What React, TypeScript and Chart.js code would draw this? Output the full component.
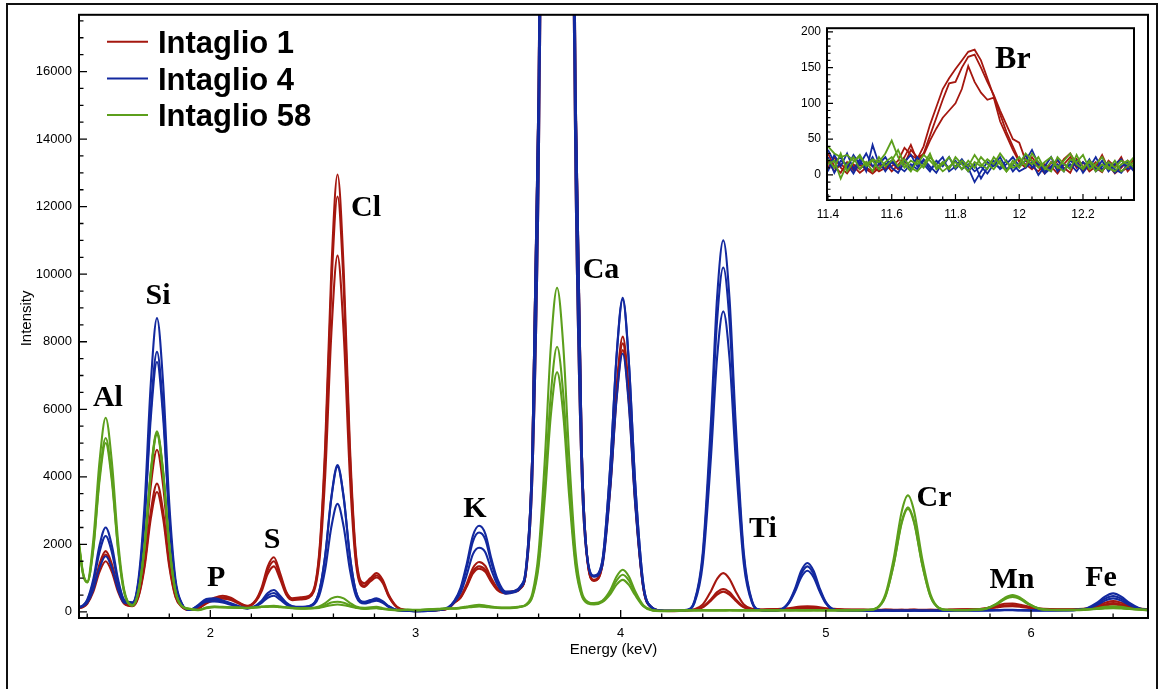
import React, { useEffect, useRef } from 'react';
import { Chart, registerables } from 'chart.js';

Chart.register(...registerables);

// ---------------- Main spectrum (Energy keV vs Intensity) ----------------
const energyKeV = [
  1.36, 1.38, 1.40, 1.43, 1.46, 1.49, 1.52, 1.55, 1.58, 1.62, 1.65, 1.68, 1.71, 1.74, 1.77, 1.80, 1.83, 1.86, 1.90,
  1.94, 1.98, 2.02, 2.06, 2.10, 2.14, 2.18,
  2.22, 2.25, 2.28, 2.31, 2.34, 2.37, 2.40, 2.44, 2.48,
  2.53, 2.56, 2.59, 2.62, 2.65, 2.68, 2.71, 2.75, 2.78, 2.81, 2.84, 2.87, 2.91,
  2.96, 3.01, 3.06, 3.11, 3.16,
  3.19, 3.22, 3.25, 3.28, 3.31, 3.34, 3.37, 3.40, 3.44, 3.48,
  3.51, 3.54, 3.57, 3.60, 3.63, 3.66, 3.69, 3.72, 3.75, 3.78, 3.81, 3.84, 3.87,
  3.91, 3.95, 3.98, 4.01, 4.04, 4.07, 4.11, 4.15, 4.20,
  4.26, 4.32, 4.36, 4.40, 4.44, 4.47, 4.50, 4.53, 4.56, 4.60, 4.64, 4.68, 4.73,
  4.78, 4.82, 4.85, 4.88, 4.91, 4.94, 4.97, 5.00, 5.04, 5.09,
  5.15, 5.20, 5.25, 5.29, 5.33, 5.37, 5.40, 5.43, 5.47, 5.51, 5.55, 5.60, 5.66,
  5.72, 5.78, 5.83, 5.87, 5.91, 5.95, 5.99, 6.04, 6.10,
  6.16, 6.22, 6.27, 6.32, 6.36, 6.40, 6.44, 6.48, 6.53, 6.57,
];

const intaglio1Spot1 = [
  120, 160, 270, 710, 1420, 1800, 1420, 710, 270, 195, 570, 1790, 3740, 4800, 3740, 1790, 570, 180, 60,
  100, 300, 420, 480, 420, 280, 180,
  340, 720, 1350, 1620, 1150, 600, 400, 430, 470,
  1700, 4950, 10140, 12950, 10140, 4950, 1700, 850, 1000, 1150, 950, 500, 150,
  50, 30, 40, 60, 120,
  290, 460, 840, 1300, 1480, 1360, 990, 700, 590, 620,
  700, 1300, 4900, 15500, 37500, 64000, 76000, 64000, 37500, 15500, 4900, 1450, 950,
  1400, 3900, 6650, 8150, 6500, 3450, 760, 140, 40,
  30, 50, 80, 220, 615, 980, 1150, 980, 615, 220, 90, 70, 80,
  90, 110, 140, 160, 170, 160, 140, 110, 90, 70,
  70, 65, 60, 70, 65, 60, 65, 70, 60, 65, 60, 70, 80,
  80, 110, 180, 240, 250, 210, 150, 100, 80,
  75, 80, 100, 180, 270, 320, 270, 180, 100, 75,
];
const intaglio1Spot2 = [
  115, 150, 260, 680, 1340, 1700, 1340, 680, 260, 175, 470, 1430, 2970, 3800, 2970, 1430, 470, 160, 60,
  95, 270, 380, 430, 390, 260, 170,
  320, 670, 1250, 1500, 1070, 560, 380, 400, 440,
  1610, 4700, 9630, 12300, 9630, 4700, 1610, 780, 950, 1080, 900, 470, 140,
  45, 25, 35, 55, 110,
  280, 430, 780, 1200, 1350, 1250, 920, 660, 570, 600,
  690, 1280, 4850, 15300, 37000, 63000, 75000, 63000, 37000, 15300, 4850, 1430, 930,
  1380, 3820, 6500, 7950, 6350, 3370, 740, 135, 40,
  30, 45, 65, 150, 375, 585, 680, 585, 375, 150, 80, 65, 75,
  80, 95, 115, 130, 140, 130, 115, 95, 80, 65,
  60, 60, 55, 60, 55, 60, 55, 60, 55, 60, 55, 60, 70,
  75, 100, 150, 190, 200, 175, 130, 90, 75,
  70, 75, 90, 150, 220, 260, 220, 150, 90, 70,
];
const intaglio1Spot3 = [
  110, 145, 240, 600, 1185, 1500, 1185, 600, 240, 170, 445, 1340, 2770, 3550, 2770, 1340, 445, 155, 55,
  90, 250, 350, 390, 350, 240, 160,
  300, 610, 1130, 1350, 970, 510, 350, 370, 420,
  1420, 4050, 8260, 10550, 8260, 4050, 1420, 740, 900, 1020, 860, 450, 130,
  40, 30, 30, 50, 100,
  270, 420, 750, 1140, 1280, 1190, 880, 640, 550, 590,
  680, 1260, 4100, 12800, 30700, 52000, 62000, 52000, 30700, 12800, 4100, 1400, 920,
  1360, 3740, 6350, 7750, 6200, 3300, 720, 130, 35,
  25, 40, 60, 135, 335, 515, 600, 515, 335, 135, 75, 60, 70,
  70, 85, 100, 110, 120, 110, 100, 85, 75, 60,
  55, 50, 50, 55, 50, 55, 50, 55, 50, 55, 50, 55, 65,
  70, 90, 130, 160, 170, 150, 115, 85, 70,
  65, 70, 85, 130, 190, 220, 190, 130, 85, 65,
];

const intaglio4Spot1 = [
  140, 195, 360, 975, 1965, 2500, 1965, 975, 360, 285, 980, 3210, 6770, 8700, 6770, 3210, 980, 265, 60,
  200, 380, 400, 340, 260, 170, 110,
  180, 330, 560, 650, 480, 280, 170, 150, 170,
  600, 1680, 3410, 4350, 3410, 1680, 600, 300, 350, 400, 320, 170, 60,
  40, 20, 30, 60, 140,
  340, 720, 1430, 2260, 2550, 2320, 1570, 960, 600, 620,
  750, 1400, 4900, 15500, 37500, 64000, 76000, 64000, 37500, 15500, 4900, 1500, 1080,
  1500, 4400, 7600, 9300, 7400, 3900, 850, 150, 40,
  30, 60, 330, 1760, 5660, 9320, 11000, 9320, 5660, 1760, 330, 60, 30,
  70, 300, 700, 1220, 1450, 1220, 700, 290, 70, 40,
  40, 35, 40, 45, 40, 35, 40, 45, 40, 35, 40, 45, 40,
  45, 50, 55, 60, 60, 55, 50, 45, 50,
  50, 60, 105, 265, 455, 550, 455, 265, 105, 60,
];
const intaglio4Spot2 = [
  135, 190, 335, 885, 1770, 2250, 1770, 885, 335, 265, 880, 2850, 5995, 7700, 5995, 2850, 880, 250, 60,
  180, 340, 360, 310, 240, 160, 105,
  170, 300, 490, 560, 420, 250, 160, 140, 165,
  590, 1660, 3370, 4300, 3370, 1660, 590, 280, 330, 370, 300, 160, 55,
  35, 25, 35, 55, 130,
  320, 670, 1320, 2090, 2350, 2150, 1450, 900, 580, 600,
  740, 1380, 4850, 15300, 37000, 63000, 75000, 63000, 37000, 15300, 4850, 1480, 1060,
  1480, 4370, 7560, 9250, 7360, 3880, 840, 150, 40,
  30, 55, 305, 1630, 5240, 8640, 10200, 8640, 5240, 1630, 305, 55, 30,
  65, 280, 650, 1130, 1350, 1130, 650, 270, 65, 40,
  35, 40, 35, 40, 35, 40, 35, 40, 35, 40, 35, 40, 45,
  40, 45, 50, 55, 55, 50, 45, 45, 45,
  50, 60, 95, 230, 390, 470, 390, 230, 95, 55,
];
const intaglio4Spot3 = [
  130, 170, 275, 670, 1305, 1650, 1305, 670, 275, 255, 850, 2740, 5760, 7400, 5760, 2740, 850, 245, 55,
  160, 300, 310, 280, 210, 140, 100,
  160, 270, 420, 480, 360, 220, 150, 130, 155,
  470, 1260, 2520, 3200, 2520, 1260, 470, 250, 290, 330, 270, 140, 50,
  30, 20, 30, 50, 120,
  290, 570, 1100, 1710, 1900, 1770, 1240, 800, 540, 580,
  700, 1250, 4100, 12800, 30700, 52000, 62000, 52000, 30700, 12800, 4100, 1450, 1040,
  1350, 3700, 6300, 7650, 6100, 3250, 720, 130, 35,
  30, 50, 270, 1420, 4580, 7540, 8900, 7540, 4580, 1420, 270, 50, 30,
  60, 260, 600, 1030, 1220, 1030, 600, 250, 60, 40,
  30, 35, 30, 35, 30, 35, 30, 35, 30, 35, 30, 35, 40,
  40, 40, 45, 50, 50, 45, 40, 40, 40,
  45, 55, 85, 200, 335, 400, 335, 200, 85, 50,
];

const intaglio58Spot1 = [
  2050, 1150, 900, 2150, 4450, 5750, 4450, 2130, 660, 200, 620, 2000, 4170, 5350, 4170, 2000, 620, 180, 90,
  60, 130, 160, 150, 140, 130, 120,
  140, 160, 170, 180, 160, 140, 120, 110, 115,
  160, 260, 400, 450, 400, 270, 160, 120, 140, 150, 110, 80, 60,
  70, 60, 80, 90, 110,
  110, 130, 160, 190, 210, 190, 160, 140, 130, 140,
  160, 230, 560, 1770, 4480, 7900, 9600, 7900, 4480, 1770, 600, 300, 260,
  330, 650, 1050, 1250, 1050, 620, 200, 60, 30,
  40, 50, 45, 55, 50, 45, 50, 55, 45, 40, 50, 45, 50,
  50, 45, 55, 50, 45, 50, 55, 50, 45, 50,
  50, 60, 130, 520, 1560, 2980, 3450, 2980, 1560, 520, 130, 60, 55,
  65, 100, 240, 410, 500, 410, 240, 100, 60,
  60, 60, 75, 110, 150, 170, 150, 110, 75, 60,
];
const intaglio58Spot2 = [
  2000, 1120, 880, 1920, 4000, 5150, 4000, 1920, 600, 190, 620, 1970, 4130, 5300, 4130, 1970, 620, 180, 90,
  55, 120, 150, 140, 130, 125, 115,
  135, 150, 160, 165, 150, 135, 115, 100, 105,
  140, 200, 280, 300, 270, 200, 140, 100, 110, 120, 90, 70, 50,
  60, 50, 70, 80, 100,
  100, 120, 140, 165, 180, 165, 140, 125, 120, 130,
  155, 210, 480, 1480, 3700, 6470, 7850, 6470, 3700, 1480, 520, 270, 240,
  310, 590, 930, 1100, 930, 560, 180, 55, 30,
  35, 40, 50, 45, 40, 50, 45, 40, 50, 45, 40, 50, 45,
  45, 50, 45, 40, 50, 45, 40, 45, 50, 45,
  50, 55, 120, 460, 1400, 2680, 3100, 2680, 1400, 460, 120, 55, 50,
  60, 95, 230, 390, 470, 390, 230, 95, 55,
  55, 55, 70, 95, 120, 130, 120, 95, 70, 55,
];
const intaglio58Spot3 = [
  1950, 1100, 870, 1870, 3880, 5000, 3880, 1870, 590, 185, 610, 1950, 4090, 5250, 4090, 1950, 610, 175, 85,
  50, 110, 140, 130, 125, 120, 110,
  130, 145, 150, 155, 140, 130, 110, 95, 100,
  120, 160, 200, 220, 200, 160, 120, 90, 100, 110, 85, 65, 45,
  55, 45, 65, 75, 95,
  95, 110, 130, 150, 160, 150, 130, 115, 110, 120,
  150, 200, 450, 1350, 3350, 5850, 7100, 5850, 3350, 1350, 480, 250, 220,
  290, 530, 810, 950, 800, 500, 170, 50, 25,
  30, 45, 40, 40, 45, 40, 40, 50, 40, 50, 45, 40, 40,
  40, 45, 40, 45, 40, 50, 45, 40, 45, 40,
  45, 55, 115, 450, 1380, 2640, 3050, 2640, 1380, 450, 115, 55, 50,
  60, 90, 215, 365, 440, 365, 215, 90, 55,
  50, 50, 65, 85, 100, 110, 100, 85, 65, 50,
];

const energyTicks = [2, 3, 4, 5, 6];
const intensityTicks = [0, 2000, 4000, 6000, 8000, 10000, 12000, 14000, 16000];

// ---------------- Inset (Br region) ----------------
const insetEnergyKeV = [
  11.40, 11.42, 11.44, 11.46, 11.48, 11.50, 11.52, 11.54, 11.56, 11.58,
  11.60, 11.62, 11.64, 11.66, 11.68, 11.70, 11.72, 11.74, 11.76, 11.78,
  11.80, 11.82, 11.84, 11.86, 11.88, 11.90, 11.92, 11.94, 11.96, 11.98,
  12.00, 12.02, 12.04, 12.06, 12.08, 12.10, 12.12, 12.14, 12.16, 12.18,
  12.20, 12.22, 12.24, 12.26, 12.28, 12.30, 12.32, 12.34, 12.36,
];
const insetIntaglio1Spot1 = [20, 5, 15, 8, 12, 3, 10, 5, 15, 8, 12, 20, 38, 28, 22, 40, 70, 95, 120, 135, 148, 160, 172, 175, 160, 135, 110, 85, 60, 40, 20, 15, 8, 18, 5, 12, 2, 15, 25, 10, 18, 5, 12, 28, 8, 15, 5, 10, 22];
const insetIntaglio1Spot2 = [30, 12, 3, 18, 6, 14, 8, 2, 10, 16, 5, 14, 25, 42, 20, 30, 55, 80, 105, 128, 130, 150, 165, 168, 150, 130, 112, 90, 70, 50, 45, 20, 12, 5, 15, 8, 20, 10, 3, 22, 12, 8, 18, 6, 14, 2, 10, 20, 8];
const insetIntaglio1Spot3 = [10, 25, 10, 2, 15, 8, 18, 12, 5, 10, 18, 8, 15, 35, 25, 28, 48, 65, 80, 90, 100, 120, 152, 130, 115, 105, 108, 75, 55, 35, 18, 10, 25, 12, 2, 18, 8, 22, 30, 15, 5, 18, 10, 4, 20, 12, 25, 5, 15];
const insetIntaglio4Spot1 = [35, 18, 25, 10, 28, 15, 30, 12, 20, 5, 18, 10, 22, 8, 25, 15, 5, 20, 12, 25, 8, 18, 5, 15, -5, 10, 20, 8, 15, 25, 12, 20, 35, 15, 5, 12, 22, 8, 15, 5, 18, 10, 25, 8, 15, 3, 12, 18, 8];
const insetIntaglio4Spot2 = [5, 28, 12, 30, 8, 22, 5, 42, 15, 25, 10, 3, 18, 28, 12, 20, 8, 15, 25, 5, 12, 22, 10, -10, 5, 18, 12, 25, 8, 15, 5, 10, 18, 0, 12, 25, 5, 15, 10, 20, 3, 15, 8, 20, 5, 15, 22, 8, 12];
const insetIntaglio4Spot3 = [25, 3, 20, 15, 2, 18, 10, 25, 8, 15, 20, 12, 5, 15, 8, 22, 12, 3, 18, 10, 20, 8, 15, 5, 12, 2, 15, 10, 20, 5, 15, 28, 10, 18, 2, 10, 15, 5, 20, 12, 8, 22, 5, 12, 18, 8, 3, 15, 5];
const insetIntaglio58Spot1 = [40, 30, 25, 28, 20, 25, 15, 22, 18, 30, 48, 25, 10, 20, 15, 28, 20, 10, 18, 8, 25, 15, 5, 18, 12, 22, 15, 30, 18, 10, 15, 30, 20, 10, 18, 25, 10, 20, 30, 15, 8, 20, 12, 5, 18, 10, 20, 15, 25];
const insetIntaglio58Spot2 = [15, 20, -5, 15, 25, 8, 18, 5, 25, 12, 20, 35, 15, 5, 20, 10, 25, 15, 5, 12, 18, 8, 20, 10, 25, 15, 8, 20, 5, 15, 25, 12, 30, 18, 10, 5, 25, 15, 8, 28, 10, 18, 5, 15, 8, 20, 5, 12, 18];
const insetIntaglio58Spot3 = [22, 10, 30, 5, 18, 28, 12, 20, 8, 18, 25, 12, 22, 10, 5, 15, 30, 8, 15, 25, 10, 20, 12, 28, 15, 8, 25, 15, 5, 20, 10, 22, 15, 25, 8, 18, 12, 5, 22, 18, 28, 8, 15, 25, 10, 5, 15, 20, 10];

const insetEnergyTicks = [11.4, 11.6, 11.8, 12, 12.2];
const insetIntensityTicks = [0, 50, 100, 150, 200];

// ---------------- Labels ----------------
const legendLabels = ['Intaglio 1', 'Intaglio 4', 'Intaglio 58'];
const elementNames = ['Al', 'Si', 'P', 'S', 'Cl', 'K', 'Ca', 'Ti', 'Cr', 'Mn', 'Fe'];
const elementEnergy = [1.501, 1.745, 2.028, 2.301, 2.759, 3.29, 3.904, 4.693, 5.527, 5.907, 6.341];
const elementIntensity = [6110, 9120, 770, 1890, 11720, 2800, 9890, 2210, 3130, 710, 770];
const insetLabel = 'Br';
const insetLabelEnergy = 11.98;
const insetLabelIntensity = 149;

// ---------------- Styles ----------------
const RED = '#a5170f';
const BLUE = '#13299f';
const GREEN = '#5c9f1c';
const groupColors = [RED, BLUE, GREEN];
const SANS = '"Liberation Sans", Arial, Helvetica, sans-serif';
const SERIF = '"Liberation Serif", "Times New Roman", Times, serif';

type TickCfg = {
  xStart: number; xEnd: number; xMinor: number; xMajor: number;
  yStart: number; yEnd: number; yMinor: number; yMajor: number;
  majorLen: number; minorLen: number; tickWidth: number; frameWidth: number;
};

function isMultiple(v: number, step: number) {
  const r = v / step;
  return Math.abs(r - Math.round(r)) < 1e-6;
}

function ticksAndFrame(cfg: TickCfg) {
  return {
    id: 'ticksAndFrame',
    afterDatasetsDraw(chart: any) {
      const { ctx, chartArea: a, scales } = chart;
      const x = scales.x;
      const y = scales.y;
      ctx.save();
      ctx.strokeStyle = '#000';
      ctx.lineWidth = cfg.tickWidth;
      ctx.beginPath();
      const nx = Math.round((cfg.xEnd - cfg.xStart) / cfg.xMinor);
      for (let k = 0; k <= nx; k++) {
        const v = cfg.xStart + k * cfg.xMinor;
        const px = x.getPixelForValue(v);
        const len = isMultiple(v, cfg.xMajor) ? cfg.majorLen : cfg.minorLen;
        ctx.moveTo(px, a.bottom);
        ctx.lineTo(px, a.bottom - len);
      }
      const ny = Math.round((cfg.yEnd - cfg.yStart) / cfg.yMinor);
      for (let k = 0; k <= ny; k++) {
        const v = cfg.yStart + k * cfg.yMinor;
        const py = y.getPixelForValue(v);
        const len = isMultiple(v, cfg.yMajor) ? cfg.majorLen : cfg.minorLen;
        ctx.moveTo(a.left, py);
        ctx.lineTo(a.left + len, py);
      }
      ctx.stroke();
      ctx.lineWidth = cfg.frameWidth;
      ctx.strokeRect(a.left, a.top, a.right - a.left, a.bottom - a.top);
      ctx.restore();
    },
  };
}

const mainText = {
  id: 'mainText',
  afterDraw(chart: any) {
    const { ctx, chartArea: a, scales } = chart;
    const x = scales.x;
    const y = scales.y;
    ctx.save();
    ctx.fillStyle = '#000';
    ctx.font = `bold 30px ${SERIF}`;
    ctx.textAlign = 'center';
    ctx.textBaseline = 'alphabetic';
    elementNames.forEach((n, i) => {
      ctx.fillText(n, x.getPixelForValue(elementEnergy[i]), y.getPixelForValue(elementIntensity[i]));
    });
    // axis titles
    ctx.font = `15px ${SANS}`;
    ctx.textBaseline = 'middle';
    ctx.fillText('Energy (keV)', (a.left + a.right) / 2, 650);
    ctx.save();
    ctx.translate(27, (a.top + a.bottom) / 2 + 2);
    ctx.rotate(-Math.PI / 2);
    ctx.fillText('Intensity', 0, 0);
    ctx.restore();
    // legend
    ctx.textAlign = 'left';
    ctx.textBaseline = 'alphabetic';
    ctx.font = `bold 31px ${SANS}`;
    legendLabels.forEach((lab, i) => {
      const cy = 41.7 + i * 36.7;
      ctx.strokeStyle = groupColors[i];
      ctx.lineWidth = 2;
      ctx.beginPath();
      ctx.moveTo(107, cy);
      ctx.lineTo(148, cy);
      ctx.stroke();
      ctx.fillText(lab, 158, cy + 11.1);
    });
    ctx.restore();
  },
};

const insetText = {
  id: 'insetText',
  afterDraw(chart: any) {
    const { ctx, scales } = chart;
    ctx.save();
    ctx.fillStyle = '#000';
    ctx.font = `bold 32px ${SERIF}`;
    ctx.textAlign = 'center';
    ctx.textBaseline = 'alphabetic';
    ctx.fillText(insetLabel, scales.x.getPixelForValue(insetLabelEnergy), scales.y.getPixelForValue(insetLabelIntensity));
    ctx.restore();
  },
};

function toPoints(xs: number[], ys: number[]) {
  return xs.map((e, i) => ({ x: e, y: ys[i] }));
}

const mainSeries = [
  { name: 'Intaglio 58 a', values: intaglio58Spot1, color: GREEN },
  { name: 'Intaglio 58 b', values: intaglio58Spot2, color: GREEN },
  { name: 'Intaglio 58 c', values: intaglio58Spot3, color: GREEN },
  { name: 'Intaglio 4 a', values: intaglio4Spot1, color: BLUE },
  { name: 'Intaglio 4 b', values: intaglio4Spot2, color: BLUE },
  { name: 'Intaglio 4 c', values: intaglio4Spot3, color: BLUE },
  { name: 'Intaglio 1 a', values: intaglio1Spot1, color: RED },
  { name: 'Intaglio 1 b', values: intaglio1Spot2, color: RED },
  { name: 'Intaglio 1 c', values: intaglio1Spot3, color: RED },
];

const insetSeries = [
  { name: 'Intaglio 58 a', values: insetIntaglio58Spot1, color: GREEN },
  { name: 'Intaglio 58 b', values: insetIntaglio58Spot2, color: GREEN },
  { name: 'Intaglio 58 c', values: insetIntaglio58Spot3, color: GREEN },
  { name: 'Intaglio 4 a', values: insetIntaglio4Spot1, color: BLUE },
  { name: 'Intaglio 4 b', values: insetIntaglio4Spot2, color: BLUE },
  { name: 'Intaglio 4 c', values: insetIntaglio4Spot3, color: BLUE },
  { name: 'Intaglio 1 a', values: insetIntaglio1Spot1, color: RED },
  { name: 'Intaglio 1 b', values: insetIntaglio1Spot2, color: RED },
  { name: 'Intaglio 1 c', values: insetIntaglio1Spot3, color: RED },
];

function fixedTicks(values: number[]) {
  return (s: any) => { s.ticks = values.map((v) => ({ value: v })); };
}

export default function App() {
  const mainRef = useRef<HTMLCanvasElement | null>(null);
  const insetRef = useRef<HTMLCanvasElement | null>(null);

  useEffect(() => {
    if (!mainRef.current || !insetRef.current) return;
    const tickFont = { family: SANS, size: 13 };

    const main = new Chart(mainRef.current, {
      type: 'line',
      data: {
        datasets: mainSeries.map((s) => ({
          label: s.name,
          data: toPoints(energyKeV, s.values),
          borderColor: s.color,
          backgroundColor: s.color,
          borderWidth: 2.1,
          pointRadius: 0,
          fill: false,
          cubicInterpolationMode: 'monotone',
        })),
      },
      options: {
        responsive: false,
        animation: false,
        devicePixelRatio: 1,
        layout: { padding: { left: 8, top: 13, right: 10, bottom: 0 } },
        plugins: { legend: { display: false }, tooltip: { enabled: false }, title: { display: false } },
        scales: {
          x: {
            type: 'linear',
            min: 1.36,
            max: 6.57,
            grid: { display: false, drawTicks: false },
            border: { display: false },
            ticks: {
              padding: 8,
              color: '#000',
              font: tickFont,
              maxRotation: 0,
              autoSkip: false,
              callback: (v: any) => String(v),
            },
            afterBuildTicks: fixedTicks(energyTicks),
            afterFit: (s: any) => { s.height = 71; },
          },
          y: {
            type: 'linear',
            min: -180,
            max: 17680,
            grid: { display: false, drawTicks: false },
            border: { display: false },
            ticks: {
              padding: 7,
              color: '#000',
              font: tickFont,
              autoSkip: false,
              callback: (v: any) => String(v),
            },
            afterBuildTicks: fixedTicks(intensityTicks),
            afterFit: (s: any) => { s.width = 71; },
          },
        },
      } as any,
      plugins: [
        ticksAndFrame({
          xStart: 1.4, xEnd: 6.4, xMinor: 0.2, xMajor: 1,
          yStart: 0, yEnd: 17500, yMinor: 500, yMajor: 2000,
          majorLen: 8, minorLen: 4.5, tickWidth: 1.3, frameWidth: 2,
        }),
        mainText,
      ],
    } as any);

    const insetFont = { family: SANS, size: 12 };
    const inset = new Chart(insetRef.current, {
      type: 'line',
      data: {
        datasets: insetSeries.map((s) => ({
          label: s.name,
          data: toPoints(insetEnergyKeV, s.values),
          borderColor: s.color,
          backgroundColor: s.color,
          borderWidth: 1.8,
          pointRadius: 0,
          fill: false,
          tension: 0,
        })),
      },
      options: {
        responsive: false,
        animation: false,
        devicePixelRatio: 1,
        layout: { padding: { left: 0, top: 13, right: 16, bottom: 0 } },
        plugins: { legend: { display: false }, tooltip: { enabled: false } },
        scales: {
          x: {
            type: 'linear',
            min: 11.397,
            max: 12.36,
            grid: { display: false, drawTicks: false },
            border: { display: false },
            ticks: {
              padding: 7,
              color: '#000',
              font: insetFont,
              maxRotation: 0,
              autoSkip: false,
              callback: (v: any) => String(Math.round(v * 10) / 10),
            },
            afterBuildTicks: fixedTicks(insetEnergyTicks),
            afterFit: (s: any) => { s.height = 25; },
          },
          y: {
            type: 'linear',
            min: -35,
            max: 205,
            grid: { display: false, drawTicks: false },
            border: { display: false },
            ticks: {
              padding: 6,
              color: '#000',
              font: insetFont,
              autoSkip: false,
              callback: (v: any) => String(v),
            },
            afterBuildTicks: fixedTicks(insetIntensityTicks),
            afterFit: (s: any) => { s.width = 47; },
          },
        },
      } as any,
      plugins: [
        ticksAndFrame({
          xStart: 11.4, xEnd: 12.36, xMinor: 0.04, xMajor: 0.2,
          yStart: -30, yEnd: 200, yMinor: 10, yMajor: 50,
          majorLen: 6, minorLen: 3.5, tickWidth: 1.2, frameWidth: 2,
        }),
        insetText,
      ],
    } as any);

    return () => {
      main.destroy();
      inset.destroy();
    };
  }, []);

  return (
    <div style={{ position: 'fixed', left: 0, top: 0, width: 1158, height: 689, background: '#fff', overflow: 'hidden' }}>
      <div
        style={{
          position: 'absolute', left: 6, top: 3, width: 1152, height: 720,
          border: '2px solid #111', boxSizing: 'border-box',
        }}
      />
      <canvas
        ref={mainRef}
        width={1158}
        height={689}
        style={{ position: 'absolute', left: 0, top: 0, width: 1158, height: 689, display: 'block' }}
      />
      <canvas
        ref={insetRef}
        width={370}
        height={210}
        style={{ position: 'absolute', left: 780, top: 15, width: 370, height: 210, display: 'block' }}
      />
    </div>
  );
}
